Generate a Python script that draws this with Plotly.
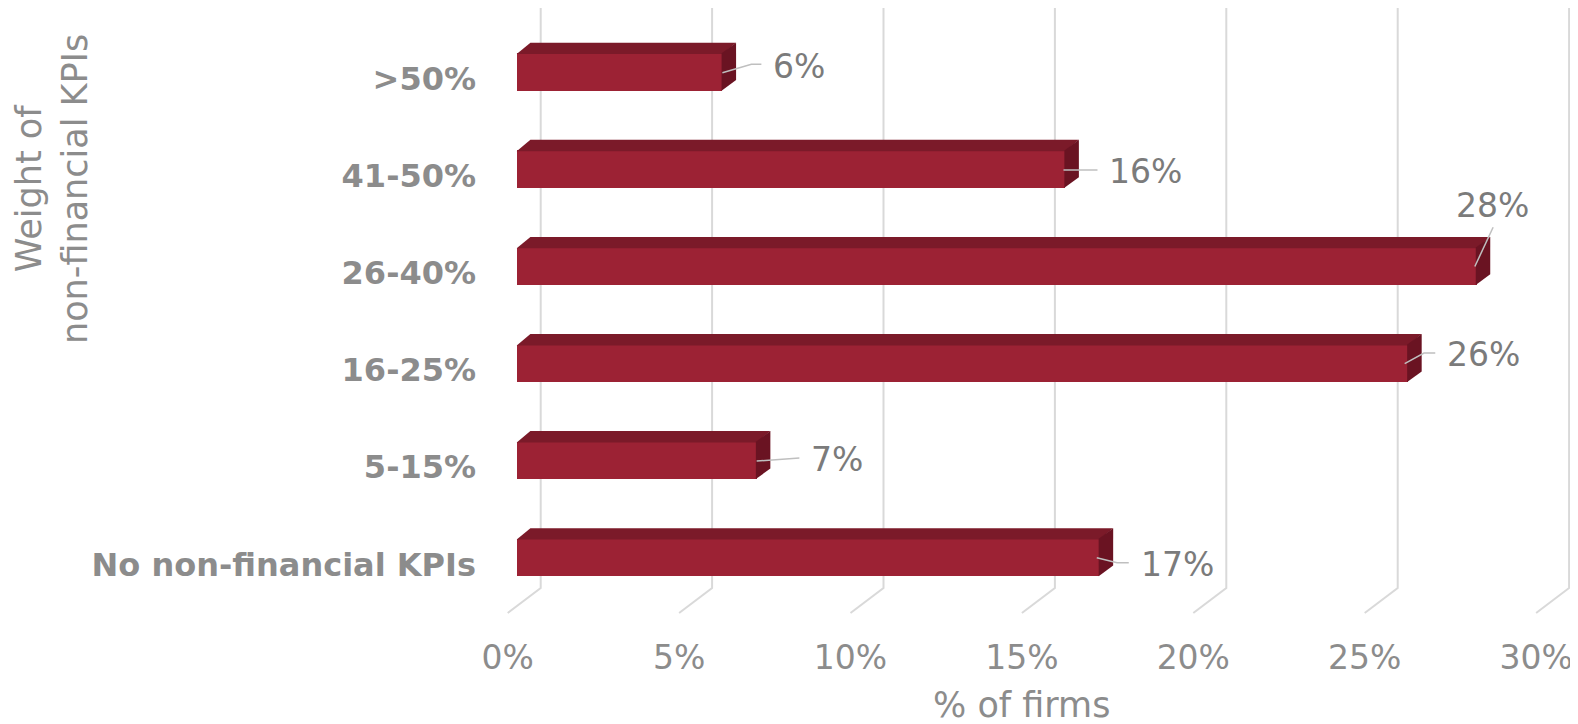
import plotly.graph_objects as go

# ---------------- data ----------------
categories = [">50%", "41-50%", "26-40%", "16-25%", "5-15%", "No non-financial KPIs"]
values = [6, 16, 28, 26, 7, 17]
tick_values = [0, 5, 10, 15, 20, 25, 30]
tick_labels = ["0%", "5%", "10%", "15%", "20%", "25%", "30%"]
value_labels = [f"{v}%" for v in values]
x_title = "% of firms"
y_title = "Weight of<br>non-financial KPIs"

# ---------------- geometry / style ----------------
PAGE_OFF = 8                             # default body margin of the html page
W, H = 1578 - PAGE_OFF, 724 - PAGE_OFF

def fx(px):  # reference px -> figure px
    return px - PAGE_OFF

L, R, T, B = fx(490), W, 0, fx(620)      # plot area in figure px
PX_X = 34.28                             # px per 1 %
X0 = fx(507.7)                           # px of 0 % on the floor front
PX_Y = 97.1                              # px per category
Y0 = fx(78.8)                            # px of first category on floor front

def xd(px):
    return px / PX_X

def yd(px):
    return px / PX_Y

def ypx(px_ref):
    return (fx(px_ref) - Y0) / PX_Y

FRONT_DX, FRONT_DY = 9.0, -6.8           # bar front plane vs floor front
DEPTH_DX, DEPTH_DY = 13.7, -10.6         # bar depth
HALF_H = 18.7                            # half bar height
BACK_DX = 33.0                           # floor depth (back wall shift)
SEAM = 0.8                               # overlap of faces to hide anti-alias seams
GRID_TOP, GRID_BOTTOM, FLOOR_FRONT = 8, 588, 613

FRONT_COL = "#9c2234"
TOP_COL = "#7b1a29"
SIDE_COL = "#6a1322"
GRID_COL = "#d9d9d9"
TEXT_COL = "#8c8c8c"
LABEL_COL = "#7b7b7b"
LEADER_COL = "#bfbfbf"
FONT = "DejaVu Sans"

# label placement (px, relative to bar front end / bar centre)
label_offsets = [
    dict(tx=49, ty=-5.5, xa="left", leader=[(0, 0.7), (29, -7.7), (39, -7.7)]),
    dict(tx=42.3, ty=2, xa="left", leader=[(-1.7, 1), (32.3, 1)]),
    dict(tx=16, ty=-61.2, xa="center", leader=[(-1.7, 0.3), (16.6, -39)]),
    dict(tx=36.7, ty=-9, xa="left", leader=[(-3.3, 0.3), (16, -10.3), (27.3, -10.3)]),
    dict(tx=52, ty=-1, xa="left", leader=[(0, 0.7), (42.7, -2.3)]),
    dict(tx=40, ty=6.5, xa="left", leader=[(-2.7, 0.2), (17.6, 5.2), (29.3, 5.2)]),
]

fig = go.Figure()

# front faces (bars)
ypos = list(range(len(categories)))
fig.add_trace(go.Bar(
    orientation="h",
    x=values,
    y=[i + yd(FRONT_DY) for i in ypos],
    base=xd(FRONT_DX),
    width=yd(2 * HALF_H),
    marker=dict(color=FRONT_COL, line=dict(width=0)),
    hoverinfo="skip",
    showlegend=False,
))

# top & side faces
for i, v in zip(ypos, values):
    x0 = xd(FRONT_DX)
    x1 = v + xd(FRONT_DX)
    yc = i + yd(FRONT_DY)
    yt = yc - yd(HALF_H)
    yb = yc + yd(HALF_H)
    ddx, ddy = xd(DEPTH_DX), yd(DEPTH_DY)
    s_x, s_y = xd(SEAM), yd(SEAM)
    fig.add_trace(go.Scatter(
        x=[x0, x1, x1 + ddx, x0 + ddx, x0],
        y=[yt + s_y, yt + s_y, yt + ddy, yt + ddy, yt + s_y],
        fill="toself", fillcolor=TOP_COL, mode="lines",
        line=dict(color=TOP_COL, width=0), hoverinfo="skip", showlegend=False,
    ))
    fig.add_trace(go.Scatter(
        x=[x1 - s_x, x1 + ddx, x1 + ddx, x1 - s_x, x1 - s_x],
        y=[yt, yt + ddy, yb + ddy, yb, yt],
        fill="toself", fillcolor=SIDE_COL, mode="lines",
        line=dict(color=SIDE_COL, width=0), hoverinfo="skip", showlegend=False,
    ))

# leader lines + value labels
lx, ly = [], []
annotations = []
for i, v, lab, off in zip(ypos, values, value_labels, label_offsets):
    xe = v + xd(FRONT_DX)
    yc = i + yd(FRONT_DY)
    for (px_, py_) in off["leader"]:
        lx.append(xe + xd(px_))
        ly.append(yc + yd(py_))
    lx.append(None)
    ly.append(None)
    annotations.append(dict(
        x=xe + xd(off["tx"]), y=yc + yd(off["ty"]), xref="x", yref="y",
        text=lab, showarrow=False, xanchor=off["xa"], yanchor="middle",
        font=dict(family=FONT, size=33, color=LABEL_COL),
    ))
fig.add_trace(go.Scatter(x=lx, y=ly, mode="lines", line=dict(color=LEADER_COL, width=1.5),
                         hoverinfo="skip", showlegend=False))

# gridlines (back wall + floor) as shapes below the traces
shapes = []
for t in tick_values:
    xb = t + xd(BACK_DX)
    path = (f"M {xb} {ypx(GRID_TOP)} L {xb} {ypx(GRID_BOTTOM)} "
            f"L {t} {ypx(FLOOR_FRONT)}")
    shapes.append(dict(type="path", path=path, xref="x", yref="y", layer="below",
                       line=dict(color=GRID_COL, width=2)))

# axis titles
annotations.append(dict(
    x=15, y=1 - (fx(705) - T) / (B - T), xref="x", yref="paper",
    text=x_title, showarrow=False, xanchor="center", yanchor="middle",
    font=dict(family=FONT, size=35, color=TEXT_COL),
))
annotations.append(dict(
    x=(fx(52) - L) / (R - L), y=1 - (fx(189) - T) / (B - T), xref="paper", yref="paper",
    text=y_title, showarrow=False, xanchor="center", yanchor="middle", textangle=-90,
    font=dict(family=FONT, size=35, color=TEXT_COL),
))

fig.update_layout(
    width=W, height=H,
    margin=dict(l=L, r=W - R, t=T, b=H - B, pad=0, autoexpand=False),
    paper_bgcolor="white", plot_bgcolor="white",
    shapes=shapes, annotations=annotations,
    bargap=0,
    xaxis=dict(
        range=[(L - X0) / PX_X, (R - X0) / PX_X],
        tickvals=tick_values, ticktext=tick_labels,
        showgrid=False, zeroline=False, showline=False, ticks="",
        tickfont=dict(family=FONT, size=33, color=TEXT_COL),
        ticklabelstandoff=15, fixedrange=True, automargin=False,
    ),
    yaxis=dict(
        range=[ypx(620), ypx(8)],
        tickvals=ypos, ticktext=categories,
        showgrid=False, zeroline=False, showline=False, ticks="",
        tickfont=dict(family=FONT, size=32, color=TEXT_COL, weight="bold"),
        ticklabelstandoff=13, fixedrange=True, automargin=False,
    ),
)

fig.write_html("out.html")
